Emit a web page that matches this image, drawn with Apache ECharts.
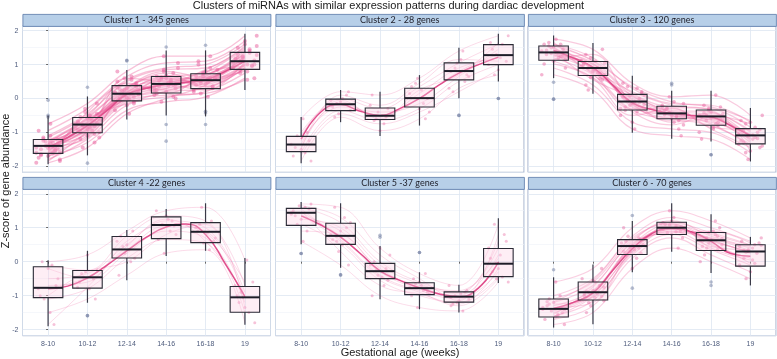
<!DOCTYPE html>
<html><head><meta charset="utf-8">
<script src="https://cdn.jsdelivr.net/npm/echarts@6/dist/echarts.min.js"></script>
<style>html,body{margin:0;padding:0;background:#fff}#c{width:777px;height:359px}</style>
</head><body><div id="c"></div>
<script>
const ages = ['8-10','10-12','12-14','14-16','16-18','19'];
const clusterTitles = ['Cluster 1 - 345 genes','Cluster 2 - 28 genes','Cluster 3 - 120 genes','Cluster 4 -22 genes','Cluster 5 -37 genes','Cluster 6 - 70 genes'];
const yTicks = [-2,-1,0,1,2];

// box stats per category: [low whisker, q1, median, q3, high whisker]
const box1 = [[-1.94,-1.62,-1.40,-1.21,-0.50],[-1.68,-1.01,-0.77,-0.56,0.06],[-0.62,-0.07,0.14,0.38,0.84],[-0.50,0.16,0.43,0.65,1.42],[-0.53,0.29,0.54,0.73,1.42],[0.25,0.86,1.10,1.36,1.91]];
const box2 = [[-1.91,-1.57,-1.36,-1.12,-0.55],[-0.70,-0.36,-0.17,-0.02,0.25],[-1.11,-0.62,-0.51,-0.28,0.20],[-0.80,-0.25,0.01,0.30,0.69],[0.01,0.55,0.81,1.05,1.50],[0.50,1.00,1.28,1.59,1.91]];
const box3 = [[0.60,1.13,1.36,1.55,1.86],[0.14,0.68,0.90,1.09,1.64],[-1.01,-0.34,-0.09,0.12,0.67],[-1.19,-0.60,-0.44,-0.23,0.23],[-1.27,-0.79,-0.53,-0.34,0.23],[-1.86,-1.34,-1.09,-0.89,-0.28]];
const box4 = [[-1.90,-1.06,-0.77,-0.15,0.04],[-1.21,-0.78,-0.46,-0.26,0.32],[-0.55,0.11,0.36,0.74,0.93],[0.17,0.68,1.08,1.32,1.55],[0.32,0.56,0.88,1.15,1.72],[-1.86,-1.49,-1.05,-0.73,0.11]];
const box5 = [[0.51,1.07,1.44,1.57,1.76],[-0.18,0.51,0.76,1.13,1.72],[-1.11,-0.50,-0.28,-0.05,0.46],[-1.40,-0.97,-0.78,-0.62,-0.31],[-1.50,-1.19,-1.03,-0.89,-0.68],[-0.63,-0.44,-0.06,0.39,1.28]];
const box6 = [[-1.94,-1.63,-1.39,-1.10,-0.46],[-1.84,-1.13,-0.90,-0.60,-0.08],[-0.31,0.21,0.46,0.65,1.20],[0.29,0.80,1.00,1.16,1.72],[-0.33,0.33,0.63,0.86,1.40],[-0.70,-0.13,0.30,0.50,0.73]];

// smooth trend read at every half category (positions 0, 0.5, 1 ... 5)
const smoothX = [0,0.5,1,1.5,2,2.5,3,3.5,4,4.5,5];
const smooth1 = [-1.45,-1.15,-0.80,-0.35,0.12,0.30,0.42,0.48,0.55,0.80,1.10];
const smooth2 = [-1.20,-0.40,-0.18,-0.38,-0.50,-0.30,0.00,0.40,0.75,1.00,1.22];
const smooth3 = [1.42,1.20,0.92,0.40,-0.13,-0.33,-0.44,-0.50,-0.55,-0.80,-1.10];
const smooth4 = [-0.80,-0.72,-0.48,-0.10,0.32,0.72,1.02,1.11,0.80,-0.06,-1.03];
const smooth5 = [1.35,1.08,0.72,0.24,-0.27,-0.55,-0.77,-0.95,-1.03,-0.77,-0.01];
const smooth6 = [-1.38,-1.20,-0.92,-0.26,0.38,0.83,0.98,0.88,0.60,0.24,0.16];

// sampled gene profiles (value at each gestational age)
const genes1 = [
[-1.45,-0.80,0.15,0.42,0.55,1.10],[-1.62,-1.00,-0.05,0.20,0.30,0.90],[-1.25,-0.58,0.35,0.65,0.72,1.35],[-1.80,-1.20,-0.20,0.05,0.20,0.75],
[-1.10,-0.45,0.50,0.85,0.90,1.55],[-1.50,-0.90,0.05,0.30,0.45,1.00],[-1.35,-0.70,0.25,0.55,0.62,1.20],[-1.70,-1.30,-0.35,-0.10,0.05,0.60],
[-0.95,-0.30,0.65,1.05,1.10,1.70],[-1.55,-0.75,0.10,0.48,0.58,1.15],[-1.40,-0.95,0.20,0.35,0.80,0.95],[-1.90,-1.45,-0.45,0.00,0.40,1.25],
[-1.30,-0.62,0.00,0.60,0.35,1.05],[-1.20,-0.85,0.40,0.25,0.65,1.40],[-1.58,-0.55,0.30,0.75,0.50,0.85],[-0.75,-0.15,0.80,1.25,1.25,1.85],
[-1.65,-1.10,-0.10,0.10,0.15,0.55],[-1.48,-0.68,0.08,0.45,0.70,1.30],[-1.38,-1.05,0.18,0.58,0.48,1.00],[-1.75,-0.40,0.55,0.90,1.00,1.60],
[-1.52,-0.88,0.22,0.38,0.60,1.18],[-1.28,-0.65,0.12,0.52,0.42,0.98],[-1.60,-0.78,-0.02,0.30,0.66,1.22],[-1.42,-1.15,0.28,0.68,0.35,0.92],
[-1.15,-0.50,0.45,0.15,0.75,1.45],[-1.85,-0.98,0.02,0.40,0.25,1.08],[-1.32,-0.72,0.32,0.80,0.62,1.28],[-1.68,-0.60,-0.15,0.22,0.52,0.80],
[-1.22,-0.92,0.60,0.50,0.85,1.50],[-1.46,-0.82,0.18,0.62,0.58,1.12]];
const genes2 = [
[-1.35,-0.15,-0.50,0.00,0.80,1.30],[-1.60,-0.35,-0.65,-0.30,0.50,1.00],[-1.10,0.00,-0.30,0.35,1.05,1.60],[-1.85,-0.55,-0.95,-0.60,0.30,0.70],
[-0.60,0.20,0.10,0.60,1.40,1.85],[-1.45,-0.10,-0.55,0.15,0.90,1.20],[-1.25,-0.25,-0.40,-0.15,0.65,1.45],[-1.50,0.10,-0.20,0.45,1.15,1.10],
[-1.70,-0.45,-0.75,-0.40,0.20,0.85],[-1.00,-0.05,-0.60,0.25,0.70,1.65]];
const genes3 = [
[1.40,0.90,-0.10,-0.45,-0.55,-1.10],[1.20,0.70,-0.35,-0.60,-0.80,-1.35],[1.55,1.10,0.15,-0.25,-0.30,-0.85],[0.90,0.40,-0.70,-0.90,-1.00,-1.60],
[1.75,1.45,0.45,0.05,0.10,-0.50],[1.30,0.80,0.00,-0.40,-0.65,-1.20],[1.45,1.00,-0.20,-0.55,-0.45,-0.95],[1.10,0.60,-0.50,-0.30,-0.90,-1.45],
[1.60,1.20,0.30,-0.15,-0.20,-0.70],[1.25,0.95,-0.05,-0.70,-0.60,-1.25],[1.50,0.75,0.10,-0.35,-0.40,-1.00],[0.70,0.25,-0.90,-1.10,-1.20,-1.80],
[1.35,1.05,-0.25,-0.50,-0.70,-1.05],[1.65,0.85,0.20,-0.20,-0.35,-1.15],[1.15,1.30,-0.15,-0.65,-0.50,-0.75],[1.38,0.55,0.05,-0.42,-0.75,-1.40],
[1.42,0.88,-0.12,-0.38,-0.50,-1.08],[1.28,1.02,0.08,-0.52,-0.62,-1.30],[1.52,0.72,-0.30,-0.28,-0.85,-0.92],[1.02,0.62,-0.40,-0.78,-0.42,-1.55],
[1.60,1.12,0.35,-0.10,-0.25,-0.65],[1.33,0.92,-0.18,-0.48,-0.58,-1.18]];
const genes4 = [
[-0.80,-0.45,0.35,1.05,0.90,-1.05],[-0.10,-0.25,0.75,1.35,1.20,-0.70],[-1.10,-0.80,0.10,0.65,0.55,-1.50],[-0.50,-0.35,0.50,1.20,1.00,-0.90],
[-1.50,-1.10,-0.40,0.25,0.35,-1.80],[0.00,0.20,0.90,1.50,1.60,0.05],[-0.70,-0.60,0.25,0.90,0.70,-1.20],[-0.20,-0.50,0.60,1.10,0.85,-0.60],
[-1.00,-0.30,0.00,0.80,1.10,-1.35],[-1.85,-0.75,0.45,1.25,0.60,-1.00]];
const genes5 = [
[1.45,0.75,-0.30,-0.80,-1.05,-0.05],[1.60,1.15,0.00,-0.60,-0.90,0.40],[1.10,0.50,-0.55,-1.00,-1.20,-0.45],[1.70,1.60,0.40,-0.35,-0.70,1.10],
[0.60,-0.10,-1.00,-1.35,-1.45,-0.60],[1.35,0.90,-0.20,-0.75,-1.00,0.20],[1.55,0.65,-0.40,-0.85,-1.10,-0.30],[1.25,1.00,-0.10,-0.65,-0.95,0.60],
[1.50,0.30,-0.70,-0.95,-1.25,-0.20],[0.90,0.80,-0.25,-0.70,-0.85,0.10],[1.65,1.30,0.20,-0.50,-1.15,0.80],[1.40,0.60,-0.45,-0.90,-1.30,-0.50]];
const genes6 = [
[-1.40,-0.90,0.45,1.00,0.60,0.30],[-1.60,-1.15,0.20,0.80,0.35,-0.10],[-1.10,-0.60,0.65,1.15,0.85,0.50],[-1.85,-1.50,-0.20,0.40,0.00,-0.50],
[-0.60,-0.20,1.00,1.50,1.20,0.70],[-1.30,-0.85,0.40,0.95,0.70,0.40],[-1.50,-1.00,0.30,1.05,0.50,0.10],[-1.20,-0.70,0.55,0.85,0.90,0.55],
[-1.70,-1.30,0.10,0.70,0.20,-0.30],[-1.00,-0.50,0.75,1.30,1.00,0.60],[-1.45,-0.95,0.50,1.10,0.65,0.25],[-1.35,-1.20,0.35,0.90,0.45,0.35],
[-1.55,-0.75,0.60,1.20,0.75,0.45],[-1.25,-1.05,0.25,0.95,0.55,-0.05],
[-1.42,-0.88,0.48,0.98,0.62,0.28],[-1.62,-1.02,0.30,1.08,0.80,0.48],[-1.18,-0.55,0.70,1.12,0.40,0.05],[-1.38,-0.95,0.42,0.88,0.68,0.32]];

// boxplot outliers: [category index, value]
const out1 = [[0,-0.05],[0,-0.50],[0,-0.55],[1,0.33],[1,-1.91],[2,1.11],[2,1.13],[3,-0.77],[3,-1.26],[3,1.52],[4,1.57],[4,-0.77],[4,-0.43],[4,-0.38]];
const out2 = [[4,-0.50],[4,-0.50],[5,0.00],[5,0.00]];
const out3 = [[0,-0.02],[0,-0.02],[0,0.48],[3,0.45],[3,0.40],[4,-1.66],[4,-1.66]];
const out4 = [[1,-1.59],[1,-1.59]];
const out5 = [[0,0.24],[0,0.24],[1,-0.39],[1,-0.39],[2,0.78],[2,0.72],[3,0.27],[3,0.27]];
const out6 = [[0,-0.24],[2,-0.78],[2,1.36],[4,-0.60],[4,-0.70]];

const boxes = [box1,box2,box3,box4,box5,box6];
const smooths = [smooth1,smooth2,smooth3,smooth4,smooth5,smooth6];
const genesAll = [genes1,genes2,genes3,genes4,genes5,genes6];
const outs = [out1,out2,out3,out4,out5,out6];

const Y_MIN = -2.18, Y_MAX = 2.14;
const X_MIN = -0.65, X_MAX = 5.65;
const BOX_W = 0.75;
const panels = [
  {left:22.5, top:26, width:248, height:146.3},
  {left:275.5, top:26, width:248.5, height:146.3},
  {left:528, top:26, width:248, height:146.3},
  {left:22.5, top:189, width:248, height:146.7},
  {left:275.5, top:189, width:248.5, height:146.7},
  {left:528, top:189, width:248, height:146.7}
];
const lineAlpha = [0.42,0.28,0.36,0.28,0.26,0.32];
const lineW = [1.3,0.9,1.2,0.9,0.9,1.1];
const ptAlpha = [0.6,0.45,0.55,0.45,0.45,0.5];
const ptSize = [4,3,3.6,3,3,3.4];
const jitW = [0.6,0.5,0.6,0.5,0.5,0.55];

const grids=[], xAxes=[], yAxes=[], series=[], graphics=[];
panels.forEach((p,i)=>{
  grids.push({left:p.left, top:p.top, width:p.width, height:p.height, show:true, borderColor:'#8796b8', borderWidth:0.8, backgroundColor:'#fff', containLabel:false});
  xAxes.push({type:'value', gridIndex:i, min:X_MIN, max:X_MAX, splitNumber:6,
    axisLine:{show:false}, axisTick:{show:i>=3, length:2, lineStyle:{color:'#666'}},
    axisLabel:{show:i>=3, fontSize:7, color:'#4d5b7c', margin:5, fontFamily:'Liberation Sans, Arial',
      showMinLabel:false, showMaxLabel:false,
      formatter:v=>Number.isInteger(v)&&v>=0&&v<ages.length?ages[v]:''},
    splitLine:{show:true, lineStyle:{color:'#dde6f1', width:0.8}}, minorSplitLine:{show:false}});
  yAxes.push({type:'value', gridIndex:i, min:Y_MIN, max:Y_MAX, splitNumber:4,
    axisLine:{show:false}, axisTick:{show:i%3===0, length:2, lineStyle:{color:'#666'}},
    minorTick:{show:false, splitNumber:2},
    axisLabel:{show:i%3===0, fontSize:7, color:'#4d5b7c', margin:4, fontFamily:'Liberation Sans, Arial',
      showMinLabel:false, showMaxLabel:false,
      formatter:v=>yTicks.indexOf(v)>=0?String(v):''},
    splitLine:{show:true, lineStyle:{color:'#dde6f1', width:0.8}},
    minorSplitLine:{show:true, lineStyle:{color:'#eef2f8', width:0.6}}});
  // gene profile lines
  genesAll[i].forEach((g)=>{
    series.push({type:'line', xAxisIndex:i, yAxisIndex:i, data:g.map((v,k)=>[k,v]), smooth:0.4,
      symbol:'none', silent:true, z:1, lineStyle:{color:'rgba(238,110,165,'+lineAlpha[i]+')', width:lineW[i]}});
  });
  // jittered points
  const pts=[];
  genesAll[i].forEach((g,gi)=>{ g.forEach((v,k)=>{ const j=(((gi*7+k*3)%11)/10-0.5)*jitW[i]; pts.push([k+j,v]); }); });
  series.push({type:'scatter', xAxisIndex:i, yAxisIndex:i, data:pts, symbolSize:ptSize[i], silent:true, z:2,
    itemStyle:{color:'rgba(230,85,150,'+ptAlpha[i]+')'}});
  // smooth trend
  series.push({type:'line', xAxisIndex:i, yAxisIndex:i, data:smooths[i].map((v,k)=>[smoothX[k],v]), smooth:0.5,
    symbol:'none', silent:true, z:3, lineStyle:{color:'#e04f8c', width:1.5}});
  // outliers
  series.push({type:'scatter', xAxisIndex:i, yAxisIndex:i, data:outs[i], symbolSize:3.6, silent:true, z:4,
    itemStyle:{color:'rgba(105,118,155,0.6)'}});
  // boxes
  series.push({type:'custom', xAxisIndex:i, yAxisIndex:i, silent:true, z:5,
    data:boxes[i].map((b,k)=>[k].concat(b)),
    renderItem:(params,api)=>{
      const x=api.value(0);
      const lo=api.coord([x,api.value(1)]), q1=api.coord([x,api.value(2)]), md=api.coord([x,api.value(3)]),
            q3=api.coord([x,api.value(4)]), hi=api.coord([x,api.value(5)]);
      const hw=api.size([BOX_W,0])[0]/2;
      const cx=lo[0];
      return {type:'group', children:[
        {type:'line', shape:{x1:cx,y1:lo[1],x2:cx,y2:q1[1]}, style:{stroke:'#3a3a48', lineWidth:1.2}},
        {type:'line', shape:{x1:cx,y1:q3[1],x2:cx,y2:hi[1]}, style:{stroke:'#3a3a48', lineWidth:1.2}},
        {type:'rect', shape:{x:cx-hw,y:q3[1],width:2*hw,height:q1[1]-q3[1]}, style:{fill:'rgba(252,205,225,0.35)', stroke:'#2a2a35', lineWidth:1.1}},
        {type:'line', shape:{x1:cx-hw,y1:md[1],x2:cx+hw,y2:md[1]}, style:{stroke:'#1d1d28', lineWidth:2}}
      ]};
    }});
  // strip
  graphics.push({type:'rect', left:p.left, top:p.top-12, shape:{width:p.width, height:12},
    style:{fill:'#b7cfe8', stroke:'#5877a8', lineWidth:0.8}, z:10});
  graphics.push({type:'text', x:p.left+p.width/2, y:p.top-5.5, style:{text:clusterTitles[i], fontSize:9, fill:'#1e1e28',
    fontFamily:'Lato, Open Sans, sans-serif', align:'center', verticalAlign:'middle'}, z:11});
});
graphics.push({type:'text', x:6, y:181, rotation:Math.PI/2, style:{text:'Z-score of gene abundance', fontSize:11, fill:'#1a1a1a',
  fontFamily:'Liberation Sans, Arial', align:'center', verticalAlign:'middle'}, z:11});
graphics.push({type:'text', x:400, y:352.5, style:{text:'Gestational age (weeks)', fontSize:11, fill:'#1a1a1a',
  fontFamily:'Liberation Sans, Arial', align:'center', verticalAlign:'middle'}, z:11});

const chart = echarts.init(document.getElementById('c'), null, {renderer:'canvas'});
chart.setOption({
  animation:false,
  title:{text:'Clusters of miRNAs with similar expression patterns during dardiac development', left:'center', top:-5,
    textStyle:{fontSize:11, fontWeight:'normal', color:'#1a1a1a', fontFamily:'Liberation Sans, Arial'}},
  grid:grids, xAxis:xAxes, yAxis:yAxes, series:series, graphic:graphics
});
</script></body></html>
